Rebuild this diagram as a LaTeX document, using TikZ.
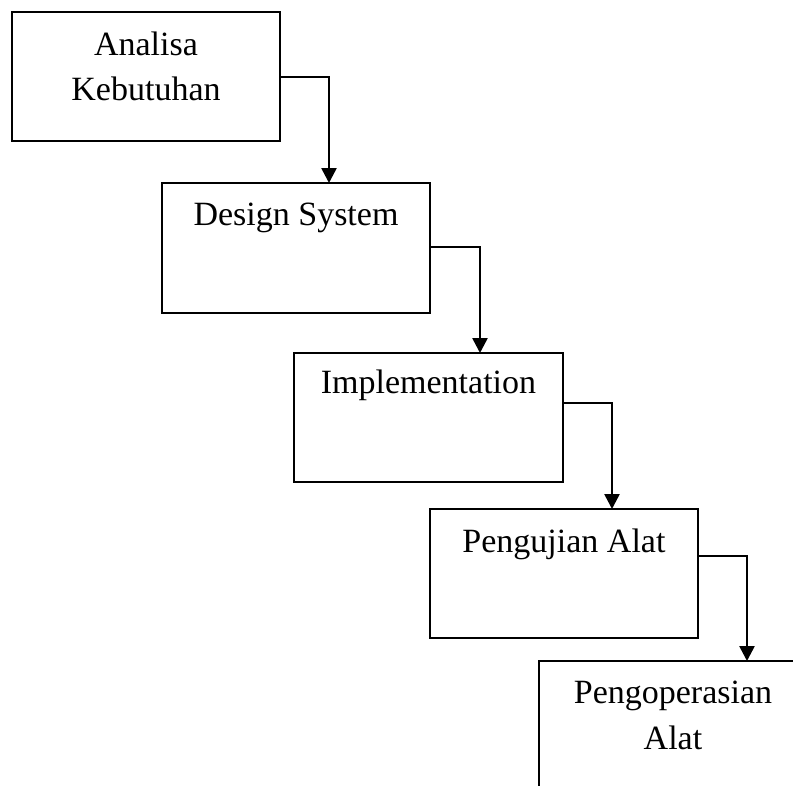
\documentclass[tikz,border=0pt]{standalone}
\usepackage{fontspec}
\setmainfont{Liberation Serif}
\usetikzlibrary{arrows.meta,calc}
\begin{document}
\begin{tikzpicture}[x=1pt,y=-1pt,
  box/.style={draw,line width=1.8pt,rectangle,minimum width=268pt,minimum height=129pt,inner sep=0pt,outer sep=0pt,anchor=north west},
  lbl/.style={anchor=base,font=\fontsize{34}{45}\selectfont,inner sep=0pt},
  conn/.style={line width=2.6pt,-{Triangle[width=15pt,length=15pt]}}]
\useasboundingbox (0,0) rectangle (793,785);
\clip (0,0) rectangle (793,785);
\node[box] (b1) at (12,12) {};
\node[box,minimum height=130pt] (b2) at (162,183) {};
\node[box,minimum width=269pt] (b3) at (294,353) {};
\node[box] (b4) at (430,509) {};
\node[box] (b5) at (539,661) {};
\node[lbl] (t1a) at (146,55) {Analisa};
\node[lbl] (t1b) at (146,100) {Kebutuhan};
\node[lbl] (t2) at (296,225) {Design System};
\node[lbl] (t3) at (428.5,393) {Implementation};
\node[lbl] (t4) at (564,552) {Pengujian Alat};
\node[lbl] (t5a) at (673,703) {Pengoperasian};
\node[lbl] (t5b) at (673,749) {Alat};
\draw[conn] ($(b1.north east)+(0,65)$) -| ($(b2.north west)+(167,0)$);
\draw[conn] ($(b2.north east)+(0,64)$) -| ($(b3.north west)+(186,0)$);
\draw[conn] ($(b3.north east)+(0,50)$) -| ($(b4.north west)+(182,0)$);
\draw[conn] ($(b4.north east)+(0,47)$) -| ($(b5.north west)+(208,0)$);
\end{tikzpicture}
\end{document}
